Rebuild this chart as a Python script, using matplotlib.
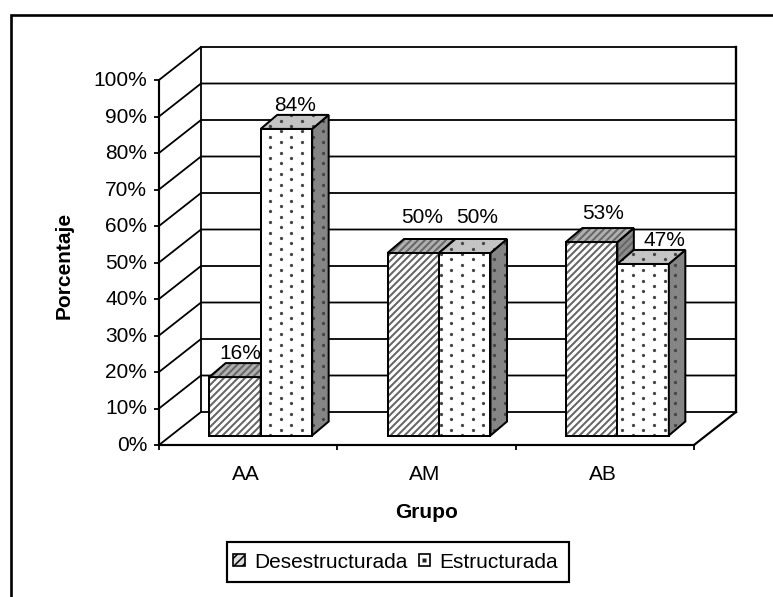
import numpy as np
import matplotlib
matplotlib.use("Agg")
import matplotlib.pyplot as plt
from matplotlib.patches import Polygon, Patch, Rectangle
from matplotlib.collections import LineCollection
from matplotlib.lines import Line2D
from matplotlib.legend_handler import HandlerPatch
from matplotlib.transforms import IdentityTransform, ScaledTranslation

plt.rcParams['font.family'] = ['Liberation Sans', 'DejaVu Sans']
plt.rcParams['hatch.linewidth'] = 1.1

# ---- data ----
categories = ['AA', 'AM', 'AB']
desestructurada = [16, 50, 53]
estructurada = [84, 50, 47]
series_names = ['Desestructurada', 'Estructurada']
y_ticks = list(range(0, 101, 10))
y_tick_labels = [f'{v}%' for v in y_ticks]
x_title = 'Grupo'
y_title = 'Porcentaje'

# ---- layout (pixels of the 773x597 canvas) ----
W, H = 773, 597
L, R, B, T = 159, 694, 445, 80
PX_X = (R - L) / 3.0      # px per category
PX_Y = (B - T) / 100.0    # px per percent
LW = 1.3
FS = 15.0

fig = plt.figure(figsize=(W / 100, H / 100), dpi=100, facecolor='white')
ax = fig.add_axes([L / W, 1 - B / H, (R - L) / W, (B - T) / H])
ax.set_xlim(0, 3)
ax.set_ylim(0, 100)
ax.patch.set_visible(False)
for s in ('top', 'right'):
    ax.spines[s].set_visible(False)
for s in ('left', 'bottom'):
    ax.spines[s].set_linewidth(LW * 1.2)
    ax.spines[s].set_zorder(30)


def dxpx(p):
    return p / PX_X


def dypx(p):
    return p / PX_Y


wall_dx, wall_dy = dxpx(42), dypx(33)
floor_dx, floor_dy = dxpx(12.5), dypx(9.5)
bar_dx, bar_dy = dxpx(16.5), dypx(14)
bar_w = dxpx(51.5)

# walls and grid
for v in y_ticks:
    ax.plot([0, wall_dx, 3 + wall_dx], [v, v + wall_dy, v + wall_dy], color='black',
            lw=LW, clip_on=False, zorder=1, solid_joinstyle='miter')
ax.plot([wall_dx, wall_dx], [wall_dy, 100 + wall_dy], color='black', lw=LW, clip_on=False, zorder=1)
ax.plot([3 + wall_dx, 3 + wall_dx], [wall_dy, 100 + wall_dy], color='black', lw=LW * 1.3, clip_on=False, zorder=1)
ax.plot([3, 3 + wall_dx], [0, wall_dy], color='black', lw=LW * 1.2, clip_on=False, zorder=1)


def stripes(clip, z):
    segs = [[(c, 0), (c + H, H)] for c in np.arange(-H, W + H, 7.0)]
    lc = LineCollection(segs, colors='#666666', linewidths=1.45,
                        transform=IdentityTransform(), zorder=z)
    ax.add_collection(lc, autolim=False)
    lc.set_clip_path(clip)


def dots(clip, z):
    S = 32 / 3
    xs, ys = [], []
    for i in range(-30, 60):
        for j in range(-40, 60):
            xs.append(270 + i * S)
            ys.append(H - 350 - j * S - (i % 2) * S / 2)
    sc = ax.scatter(xs, ys, s=5.5, color='#444444', linewidths=0,
                    transform=IdentityTransform(), zorder=z)
    sc.set_clip_path(clip)


def face(points, color, pattern, z):
    base = Polygon(points, closed=True, facecolor=color, edgecolor='none', clip_on=False, zorder=z)
    ax.add_patch(base)
    pattern(base, z + 0.1)
    ax.add_patch(Polygon(points, closed=True, facecolor='none', edgecolor='black', lw=LW * 1.1,
                         clip_on=False, zorder=z + 0.2, joinstyle='miter'))


def bar3d(x, v, colors, pattern, z):
    y0 = floor_dy
    y1 = floor_dy + v
    x1 = x + bar_w
    face([(x, y0), (x1, y0), (x1, y1), (x, y1)], colors[0], pattern, z)
    face([(x1, y0), (x1 + bar_dx, y0 + bar_dy), (x1 + bar_dx, y1 + bar_dy), (x1, y1)], colors[2], pattern, z + 1)
    face([(x, y1), (x1, y1), (x1 + bar_dx, y1 + bar_dy), (x + bar_dx, y1 + bar_dy)], colors[1], pattern, z + 2)


label_nudge_x = [[5, 9], [9, 12], [12, 21]]
label_nudge_y = [[0, 0], [12, 12], [5, 0]]
z = 5
for i, cat in enumerate(categories):
    cx = i + 0.5 + floor_dx
    for k, (vals, cols, pat) in enumerate([
        (desestructurada, ('white', '#b0b0b0', '#8c8c8c'), stripes),
        (estructurada, ('white', '#c4c4c4', '#858585'), dots),
    ]):
        x = cx - bar_w + k * bar_w
        bar3d(x, vals[i], cols, pat, z)
        z += 4
        ax.text(x + bar_w / 2 + dxpx(label_nudge_x[i][k]),
                floor_dy + vals[i] + bar_dy + dypx(label_nudge_y[i][k]),
                f'{vals[i]}%', ha='center', va='bottom', fontsize=FS, color='black', zorder=40, clip_on=False)

# axes ticks
ax.set_yticks(y_ticks)
ax.set_yticklabels(y_tick_labels, fontsize=FS)
ax.tick_params(axis='y', length=3.6, width=LW, pad=5)
ax.set_xticks([0, 1, 2, 3])
ax.set_xticklabels([])
ax.tick_params(axis='x', which='major', length=3.6, width=LW)
ax.set_xticks([0.5, 1.5, 2.5], minor=True)
ax.set_xticklabels(categories, minor=True, fontsize=FS)
ax.tick_params(axis='x', which='minor', length=0, pad=14.5)
for lab in ax.get_yticklabels():
    lab.set_transform(lab.get_transform() + ScaledTranslation(0, 1.5 / 100, fig.dpi_scale_trans))
for lab in ax.get_xticklabels(minor=True):
    lab.set_transform(lab.get_transform() + ScaledTranslation(-2 / 100, 0, fig.dpi_scale_trans))

px = IdentityTransform()
ax.set_xlabel(x_title, fontsize=FS, fontweight='bold', va='center')
ax.xaxis.set_label_coords(427, H - 512, transform=px)
ax.set_ylabel(y_title, fontsize=FS, fontweight='bold', va='center')
ax.yaxis.set_label_coords(64, H - 265, transform=px)


# legend
class DotHandler(HandlerPatch):
    def create_artists(self, legend, orig_handle, xdescent, ydescent, width, height, fontsize, trans):
        box = Rectangle((-xdescent, -ydescent), width, height, facecolor='white', edgecolor='black',
                        lw=1.2, transform=trans)
        dot = Line2D([-xdescent + width / 2], [-ydescent + height / 2], marker='s', ms=2.4, mfc='#222222',
                     mec='none', ls='none', transform=trans)
        return [box, dot]


handles = [Patch(facecolor='#dddddd', edgecolor='black', hatch='////', lw=1.2),
           Patch(facecolor='white', edgecolor='black', lw=1.2)]
fig.add_artist(Rectangle((227 / W, 1 - 582 / H), (569 - 227) / W, (582 - 542) / H, transform=fig.transFigure,
                         facecolor='white', edgecolor='black', lw=LW * 1.2, zorder=4))
leg = fig.legend(handles, series_names, loc='center', bbox_to_anchor=(395.5 / W, 1 - 562 / H),
                 ncol=2, fontsize=FS, frameon=False, handlelength=0.56, handleheight=0.56,
                 handletextpad=0.42, columnspacing=0.55, borderpad=0, borderaxespad=0,
                 handler_map={handles[1]: DotHandler()})
leg.set_zorder(5)

# outer frame: open at the right and bottom edges
fig.add_artist(Line2D([11 / W, 11 / W, 1], [0, 1 - 14.5 / H, 1 - 14.5 / H],
                      transform=fig.transFigure, color='black', lw=1.9, solid_joinstyle='miter'))

fig.savefig('out.png', dpi=100, facecolor='white')
